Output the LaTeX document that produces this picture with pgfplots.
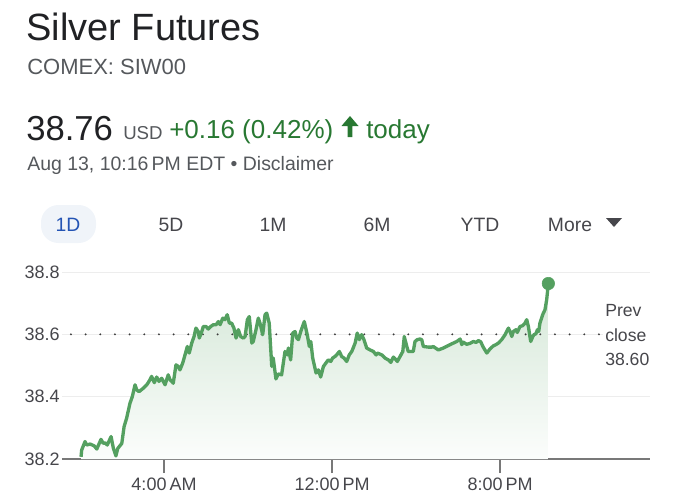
\documentclass[border=0pt]{standalone}
\usepackage{pgfplots}
\pgfplotsset{compat=1.18}
\usepackage{pgfplotstable}
\usepackage{fontspec}
\setmainfont{Liberation Sans}
\definecolor{linegreen}{RGB}{84,160,96}
\definecolor{upgreen}{RGB}{40,120,50}
\definecolor{titlec}{RGB}{32,33,36}
\definecolor{subgray}{RGB}{85,88,92}
\definecolor{labgray}{RGB}{70,70,75}
\definecolor{axisgray}{RGB}{120,120,120}
\definecolor{dotgray}{RGB}{60,60,60}
\definecolor{tabblue}{RGB}{36,84,180}
\definecolor{pill}{RGB}{240,244,249}

\pgfplotstableread{
t v
0.05 38.207
0.08 38.229
0.24 38.256
0.32 38.245
0.48 38.248
0.68 38.242
0.80 38.232
1.00 38.263
1.11 38.250
1.19 38.252
1.30 38.245
1.48 38.272
1.59 38.234
1.71 38.210
1.80 38.234
1.99 38.250
2.10 38.304
2.22 38.331
2.38 38.379
2.49 38.400
2.62 38.438
2.70 38.422
2.81 38.416
3.01 38.427
3.18 38.438
3.33 38.454
3.41 38.465
3.54 38.445
3.65 38.463
3.76 38.449
3.89 38.459
4.05 38.438
4.20 38.470
4.29 38.454
4.37 38.449
4.44 38.443
4.57 38.502
4.68 38.497
4.76 38.486
4.89 38.508
5.00 38.534
5.11 38.561
5.20 38.540
5.32 38.572
5.43 38.593
5.52 38.620
5.63 38.609
5.68 38.588
5.80 38.609
5.87 38.625
6.00 38.625
6.11 38.617
6.22 38.625
6.35 38.631
6.48 38.631
6.59 38.641
6.67 38.631
6.80 38.652
6.90 38.647
7.01 38.663
7.11 38.636
7.22 38.636
7.33 38.620
7.43 38.588
7.54 38.615
7.65 38.593
7.78 38.588
7.86 38.593
7.97 38.647
8.06 38.657
8.18 38.572
8.25 38.577
8.38 38.615
8.49 38.652
8.57 38.636
8.70 38.599
8.81 38.663
8.89 38.668
9.01 38.636
9.13 38.497
9.20 38.524
9.33 38.457
9.44 38.473
9.60 38.470
9.76 38.545
9.87 38.534
9.92 38.556
10.03 38.518
10.13 38.604
10.24 38.609
10.32 38.588
10.40 38.583
10.51 38.609
10.68 38.641
10.82 38.599
10.92 38.561
10.99 38.577
11.08 38.524
11.24 38.476
11.35 38.486
11.46 38.463
11.59 38.497
11.71 38.508
11.82 38.518
11.94 38.513
12.03 38.524
12.14 38.529
12.22 38.534
12.35 38.545
12.46 38.529
12.57 38.524
12.70 38.513
12.82 38.534
12.94 38.545
13.10 38.572
13.20 38.604
13.30 38.583
13.41 38.599
13.52 38.583
13.65 38.556
13.81 38.550
13.97 38.545
14.10 38.534
14.16 38.540
14.37 38.534
14.52 38.524
14.68 38.518
14.80 38.510
14.92 38.527
15.05 38.518
15.11 38.513
15.24 38.529
15.37 38.545
15.44 38.593
15.56 38.561
15.63 38.545
15.87 38.545
15.95 38.577
16.06 38.583
16.19 38.585
16.27 38.583
16.35 38.561
16.59 38.559
16.75 38.559
16.82 38.561
17.06 38.550
17.30 38.556
17.62 38.567
17.94 38.577
18.10 38.585
18.18 38.567
18.25 38.575
18.41 38.568
18.57 38.571
18.73 38.577
18.86 38.574
18.97 38.580
19.08 38.576
19.20 38.559
19.37 38.540
19.52 38.553
19.68 38.563
19.81 38.567
19.92 38.572
20.08 38.583
20.24 38.599
20.40 38.620
20.48 38.609
20.56 38.593
20.63 38.609
20.76 38.615
20.82 38.606
20.95 38.625
21.08 38.628
21.19 38.636
21.27 38.647
21.35 38.625
21.46 38.577
21.56 38.593
21.62 38.599
21.71 38.602
21.78 38.615
21.84 38.609
21.90 38.636
22.03 38.663
22.14 38.679
22.22 38.711
22.27 38.743
22.30 38.763
}\silver

\begin{document}
\begin{tikzpicture}
\useasboundingbox (0,0) rectangle (507pt,-375pt);
\begin{scope}[x=0.75pt,y=-0.75pt]
\node[anchor=base west, inner sep=0pt, font=\fontsize{28.5}{34}\selectfont, text=titlec] at (26,40) {Silver Futures};
\node[anchor=base west, inner sep=0pt, font=\fontsize{16.5}{20}\selectfont, text=subgray] at (27,74) {COMEX: SIW00};
\node[anchor=base west, inner sep=0pt, font=\fontsize{26}{30}\selectfont, text=titlec] at (26,140) {38.76};
\node[anchor=base west, inner sep=0pt, font=\fontsize{14}{17}\selectfont, text=subgray] at (123,139) {USD};
\node[anchor=base west, inner sep=0pt, font=\fontsize{19.5}{23}\selectfont, text=upgreen] at (169,138) {+0.16 (0.42\%)};
\fill[upgreen] (350,116) -- (358.5,126) -- (352.3,126) -- (352.3,137) -- (347.7,137) -- (347.7,126) -- (341.5,126) -- cycle;
\node[anchor=base west, inner sep=0pt, font=\fontsize{19.5}{23}\selectfont, text=upgreen] at (366,138) {today};
\node[anchor=base west, inner sep=0pt, font=\fontsize{14.6}{17}\selectfont, text=subgray] at (27,170) {Aug 13, 10:16\,PM EDT • Disclaimer};
\fill[pill, rounded corners=13pt] (41,205) rectangle (96,243);
\node[anchor=base, inner sep=0pt, font=\fontsize{14.5}{17}\selectfont, text=tabblue] at (68,231) {1D};
\node[anchor=base, inner sep=0pt, font=\fontsize{14.5}{17}\selectfont, text=labgray] at (171,231) {5D};
\node[anchor=base, inner sep=0pt, font=\fontsize{14.5}{17}\selectfont, text=labgray] at (273,231) {1M};
\node[anchor=base, inner sep=0pt, font=\fontsize{14.5}{17}\selectfont, text=labgray] at (377,231) {6M};
\node[anchor=base, inner sep=0pt, font=\fontsize{14.5}{17}\selectfont, text=labgray] at (480,231) {YTD};
\node[anchor=base, inner sep=0pt, font=\fontsize{14.5}{17}\selectfont, text=labgray] at (570,231) {More};
\fill[labgray] (606,218) -- (622,218) -- (614,227) -- cycle;
\end{scope}
\begin{axis}[
  at={(46.5pt,-344.25pt)}, anchor=south west,
  scale only axis, width=441pt, height=140.25pt,
  xmin=-0.857, xmax=27.14, ymin=38.2, ymax=38.8,
  axis x line*=bottom, axis y line*=left,
  x axis line style={-, draw=axisgray, line width=1.1pt},
  y axis line style={draw=none},
  xtick={4,12,20}, xticklabels={4:00\,AM,12:00\,PM,8:00\,PM},
  ytick={38.2,38.4,38.6,38.8}, yticklabels={38.2,38.4,38.6,38.8},
  tick align=outside, major tick length=10.5pt,
  xtick style={draw=axisgray, line width=1.1pt},
  ytick style={draw=none},
  minor tick num=0,
  ymajorgrids, grid style={draw=black!7, line width=0.7pt},
  ticklabel style={font=\fontsize{13.5}{16}\selectfont, text=labgray},
  yticklabel style={xshift=10.5pt, inner sep=1.5pt},
  /pgf/number format/assume math mode=true,
  clip=false,
]
\addplot[draw=none, top color=linegreen!25!white, bottom color=linegreen!2!white] table[x=t,y=v]{\silver} -- (axis cs:22.30,38.2) -- (axis cs:0.05,38.2) -- cycle;
\addplot[draw=dotgray, line width=1.6pt, line cap=round, dash pattern=on 0pt off 11pt] coordinates {(-0.43,38.6) (24.81,38.6)};
\addplot[linegreen, line width=2.5pt, line join=round, mark=none] table[x=t,y=v]{\silver};
\addplot[only marks, mark=*, mark size=4.7pt, color=linegreen] coordinates {(22.30,38.763)};
\end{axis}
\begin{scope}[x=0.75pt,y=-0.75pt]
\fill[white] (603,300) rectangle (660,370);
\node[anchor=base west, inner sep=0pt, font=\fontsize{13.2}{16}\selectfont, text=labgray] at (605,316) {Prev};
\node[anchor=base west, inner sep=0pt, font=\fontsize{13.2}{16}\selectfont, text=labgray] at (605,341) {close};
\node[anchor=base west, inner sep=0pt, font=\fontsize{13.2}{16}\selectfont, text=labgray] at (605,365) {38.60};
\end{scope}
\end{tikzpicture}
\end{document}
